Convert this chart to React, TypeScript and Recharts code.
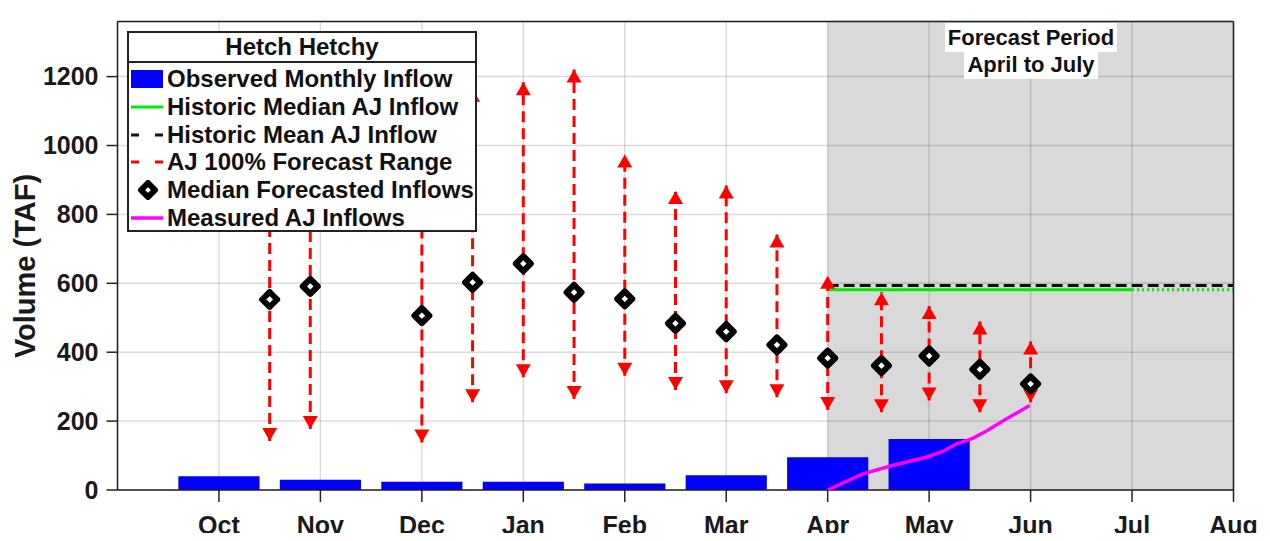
import { ComposedChart, XAxis, YAxis, CartesianGrid, ReferenceArea, ReferenceLine, Scatter, Line } from 'recharts';

const FONT = '"Liberation Sans", Arial, Helvetica, sans-serif';

// month index: Sep = 0 ... Aug = 11
const months = ['Sep', 'Oct', 'Nov', 'Dec', 'Jan', 'Feb', 'Mar', 'Apr', 'May', 'Jun', 'Jul', 'Aug'];
const monthTicks = [1, 2, 3, 4, 5, 6, 7, 8, 9, 10, 11];
const yTicks = [0, 200, 400, 600, 800, 1000, 1200];

// observed monthly inflow (TAF)
const barMonths = [1, 2, 3, 4, 5, 6, 7, 8];
const observedInflow = [40, 30, 24, 24, 19, 43, 95, 148];

// forecast issue dates (month index) and forecast range
const forecastX = [1.5, 1.9, 3.0, 3.5, 4.0, 4.5, 5.0, 5.5, 6.0, 6.5, 7.0, 7.53, 8.0, 8.5, 9.0];
const forecastMedian = [553, 591, 506, 603, 657, 574, 555, 484, 460, 421, 383, 361, 389, 350, 308];
const forecastLow = [142, 177, 138, 255, 327, 264, 332, 290, 281, 269, 232, 226, 260, 226, 255];
const forecastHigh = [1000, 1100, 1050, 1165, 1184, 1221, 974, 868, 884, 742, 622, 574, 534, 489, 431];

// measured April-July inflow, cumulative
const measuredX = [7.0, 7.34, 7.61, 7.97, 8.13, 8.27, 8.43, 8.57, 8.76, 8.99];
const measuredAJ = [0, 46, 69, 95, 111, 134, 150, 172, 206, 245];

const historicMedian = 581;
const historicMean = 594;
const forecastStart = 7;
const forecastEnd = 11;

const medianPoints = forecastX.map((x, i) => ({ x, y: forecastMedian[i] }));
const lowPoints = forecastX.map((x, i) => ({ x, y: forecastLow[i] }));
const highPoints = forecastX.map((x, i) => ({ x, y: forecastHigh[i] }));
const measuredPoints = measuredX.map((x, i) => ({ x, y: measuredAJ[i] }));

const UpArrow = (p: any) => (
  <polygon points={`${p.cx},${p.cy} ${p.cx - 7.5},${p.cy + 13} ${p.cx + 7.5},${p.cy + 13}`} fill="#ff0000" />
);
const DownArrow = (p: any) => (
  <polygon points={`${p.cx},${p.cy} ${p.cx - 7.5},${p.cy - 13} ${p.cx + 7.5},${p.cy - 13}`} fill="#ff0000" />
);
const Diamond = (p: any) => (
  <polygon
    points={`${p.cx},${p.cy - 7.5} ${p.cx + 7.5},${p.cy} ${p.cx},${p.cy + 7.5} ${p.cx - 7.5},${p.cy}`}
    fill="#fff"
    stroke="#000"
    strokeWidth={6}
    strokeLinejoin="round"
  />
);

const axisStyle = { stroke: '#222', strokeWidth: 1.5 };
const tickFont = { fill: '#1a1a1a', fontSize: 25, fontWeight: 700, fontFamily: FONT };

function LegendRow({ icon, label }: { icon: any; label: string }) {
  return (
    <div style={{ height: 27.7, display: 'flex', alignItems: 'center' }}>
      <svg width={32} height={20} style={{ marginLeft: 2, marginRight: 4, flex: 'none' }}>
        {icon}
      </svg>
      <span style={{ whiteSpace: 'nowrap' }}>{label}</span>
    </div>
  );
}

export default function App() {
  return (
    <div style={{ position: 'relative', width: 1270, height: 541, margin: -8, background: '#fff', overflow: 'hidden' }}>
      <ComposedChart width={1270} height={541} margin={{ top: 0, right: 0, bottom: 0, left: 0 }}>
        <ReferenceArea
          x1={forecastStart}
          x2={forecastEnd}
          y1={0}
          y2={1360}
          fill="#d9d9d9"
          fillOpacity={1}
          stroke="none"
          zIndex={-150}
        />
        <CartesianGrid stroke="rgba(0,0,0,0.14)" strokeWidth={1.5} />
        {barMonths.map((m, i) => (
          <ReferenceArea
            key={'bar' + m}
            x1={m - 0.4}
            x2={m + 0.4}
            y1={0}
            y2={observedInflow[i]}
            fill="#0000ff"
            fillOpacity={1}
            stroke="none"
            zIndex={50}
          />
        ))}
        <ReferenceLine
          segment={[{ x: forecastStart, y: historicMean }, { x: forecastEnd, y: historicMean }]}
          stroke="#111"
          strokeWidth={3}
          strokeDasharray="11 5"
          zIndex={350}
        />
        <ReferenceLine
          segment={[{ x: forecastStart, y: historicMedian }, { x: 10, y: historicMedian }]}
          stroke="#00ee00"
          strokeWidth={3}
          zIndex={350}
        />
        <ReferenceLine
          segment={[{ x: 10, y: historicMedian }, { x: forecastEnd, y: historicMedian }]}
          stroke="#00ee00"
          strokeWidth={3}
          strokeDasharray="2 3"
          zIndex={350}
        />
        {forecastX.map((x, i) => (
          <ReferenceLine
            key={'rng' + i}
            segment={[{ x, y: forecastLow[i] }, { x, y: forecastHigh[i] }]}
            stroke="#ff0000"
            strokeWidth={3}
            strokeDasharray="11 6"
            zIndex={360}
          />
        ))}
        <Scatter data={highPoints} dataKey="y" shape={UpArrow} isAnimationActive={false} zIndex={600} />
        <Scatter data={lowPoints} dataKey="y" shape={DownArrow} isAnimationActive={false} zIndex={600} />
        <Scatter data={medianPoints} dataKey="y" shape={Diamond} isAnimationActive={false} zIndex={650} />
        <Line
          data={measuredPoints}
          dataKey="y"
          type="linear"
          stroke="#ff00ff"
          strokeWidth={3.5}
          dot={false}
          activeDot={false}
          isAnimationActive={false}
          zIndex={700}
        />
        <XAxis
          dataKey="x"
          type="number"
          domain={[0, 11]}
          ticks={monthTicks}
          tickFormatter={(v) => months[v]}
          interval={0}
          height={51}
          tickSize={12}
          tickMargin={14}
          tick={tickFont}
          axisLine={axisStyle}
          tickLine={axisStyle}
          allowDataOverflow
        />
        <XAxis
          xAxisId="top"
          orientation="top"
          dataKey="x"
          type="number"
          domain={[0, 11]}
          ticks={monthTicks}
          tickFormatter={() => ''}
          height={21.5}
          tickSize={11}
          axisLine={axisStyle}
          tickLine={axisStyle}
        />
        <YAxis
          type="number"
          domain={[0, 1360]}
          ticks={yTicks}
          width={117.5}
          tickSize={11}
          tickMargin={8}
          tick={tickFont}
          axisLine={axisStyle}
          tickLine={axisStyle}
          allowDataOverflow
        />
        <YAxis
          yAxisId="right"
          orientation="right"
          type="number"
          domain={[0, 1360]}
          ticks={yTicks}
          width={36.5}
          tickSize={11}
          tickFormatter={() => ''}
          axisLine={axisStyle}
          tickLine={axisStyle}
        />
      </ComposedChart>

      {/* y axis title */}
      <div
        style={{
          position: 'absolute',
          left: 25,
          top: 266,
          transform: 'translate(-50%, -50%) rotate(-90deg)',
          fontFamily: FONT,
          fontWeight: 700,
          fontSize: 29,
          color: '#1a1a1a',
          whiteSpace: 'nowrap',
        }}
      >
        Volume (TAF)
      </div>

      {/* forecast period label */}
      <div
        style={{
          position: 'absolute',
          left: 931,
          top: 24,
          width: 200,
          textAlign: 'center',
          fontFamily: FONT,
          fontWeight: 700,
          fontSize: 22,
          lineHeight: '27px',
          color: '#111',
        }}
      >
        <div><span style={{ background: '#fff', padding: '2px 3px' }}>Forecast Period</span></div>
        <div><span style={{ background: '#fff', padding: '0 3px 2px' }}>April to July</span></div>
      </div>

      {/* legend */}
      <div
        style={{
          position: 'absolute',
          left: 127,
          top: 31,
          width: 350,
          height: 201,
          boxSizing: 'border-box',
          border: '2px solid #222',
          background: '#fff',
          fontFamily: FONT,
          fontWeight: 700,
          fontSize: 24,
          color: '#111',
        }}
      >
        <div style={{ height: 28, lineHeight: '28px', textAlign: 'center', borderBottom: '2px solid #222' }}>Hetch Hetchy</div>
        <div style={{ paddingTop: 2.5 }}>
          <LegendRow icon={<rect x={0} y={1} width={32} height={18} fill="#0000ff" />} label="Observed Monthly Inflow" />
          <LegendRow icon={<line x1={0} y1={10} x2={32} y2={10} stroke="#00ee00" strokeWidth={3} />} label="Historic Median AJ Inflow" />
          <LegendRow
            icon={<line x1={0} y1={10} x2={32} y2={10} stroke="#111" strokeWidth={3} strokeDasharray="8 16" />}
            label="Historic Mean AJ Inflow"
          />
          <LegendRow
            icon={<line x1={0} y1={10} x2={32} y2={10} stroke="#ff0000" strokeWidth={3} strokeDasharray="8 16" />}
            label="AJ 100% Forecast Range"
          />
          <LegendRow
            icon={
              <polygon points="17,3 24,10 17,17 10,10" fill="#fff" stroke="#000" strokeWidth={6} strokeLinejoin="round" />
            }
            label="Median Forecasted Inflows"
          />
          <LegendRow icon={<line x1={0} y1={10} x2={32} y2={10} stroke="#ff00ff" strokeWidth={3.5} />} label="Measured AJ Inflows" />
        </div>
      </div>
    </div>
  );
}
